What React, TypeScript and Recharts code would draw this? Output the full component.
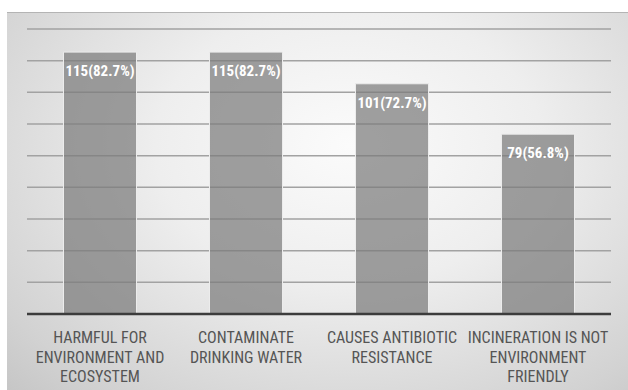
import React from 'react';
import { BarChart, Bar, XAxis, YAxis, CartesianGrid, LabelList } from 'recharts';

const categories = [
  'HARMFUL FOR\nENVIRONMENT AND\nECOSYSTEM',
  'CONTAMINATE\nDRINKING WATER',
  'CAUSES ANTIBIOTIC\nRESISTANCE',
  'INCINERATION IS NOT\nENVIRONMENT\nFRIENDLY',
];
const counts = [115, 115, 101, 79];
const percents = [82.7, 82.7, 72.7, 56.8];
const yTicks = [0, 10, 20, 30, 40, 50, 60, 70, 80, 90];

const data = categories.map((name, i) => ({
  name,
  count: counts[i],
  pct: percents[i],
  label: `${counts[i]}(${percents[i]}%)`,
}));

const FONT = '"Liberation Sans Narrow", "Roboto Condensed", "Liberation Sans", sans-serif';

const CategoryTick = ({ x, y, payload }: any) => {
  const lines = String(payload.value).split('\n');
  return (
    <text x={x} y={y} textAnchor="middle" fill="#555555" fontSize={16} fontFamily={FONT}>
      {lines.map((ln, i) => (
        <tspan key={i} x={x} dy={i === 0 ? 21 : 19.5}>
          {ln}
        </tspan>
      ))}
    </text>
  );
};

const BarValue = ({ x, y, width, value }: any) => (
  <text
    x={x + width / 2}
    y={y + 20}
    textAnchor="middle"
    dominantBaseline="middle"
    fill="#ffffff"
    fontSize={15}
    fontWeight="bold"
    fontFamily={FONT}
  >
    {value}
  </text>
);

export default function App() {
  return (
    <div
      style={{
        position: 'absolute',
        left: 7,
        top: 12,
        width: 621,
        height: 378,
        borderTop: '1px solid #b4b4b4',
        background:
          'radial-gradient(ellipse at 55% 35%, #fbfbfb 0%, #eeeeee 40%, #d2d2d2 85%, #c6c6c6 100%)',
      }}
    >
      <BarChart
        width={621}
        height={377}
        data={data}
        margin={{ top: 16, right: 17, left: 20, bottom: 0 }}
        barCategoryGap="25%"
      >
        <CartesianGrid horizontal vertical={false} stroke="#a2a2a2" strokeWidth={1.5} />
        <YAxis hide domain={[0, 90]} ticks={yTicks} />
        <XAxis
          dataKey="name"
          interval={0}
          tickLine={false}
          axisLine={{ stroke: '#3c3c3c', strokeWidth: 2.5 }}
          tick={<CategoryTick />}
          height={76}
        />
        <Bar
          dataKey="pct"
          fill="#7c7c7c"
          fillOpacity={0.72}
          stroke="#ececec"
          strokeWidth={1}
          isAnimationActive={false}
        >
          <LabelList dataKey="label" content={<BarValue />} />
        </Bar>
      </BarChart>
    </div>
  );
}
